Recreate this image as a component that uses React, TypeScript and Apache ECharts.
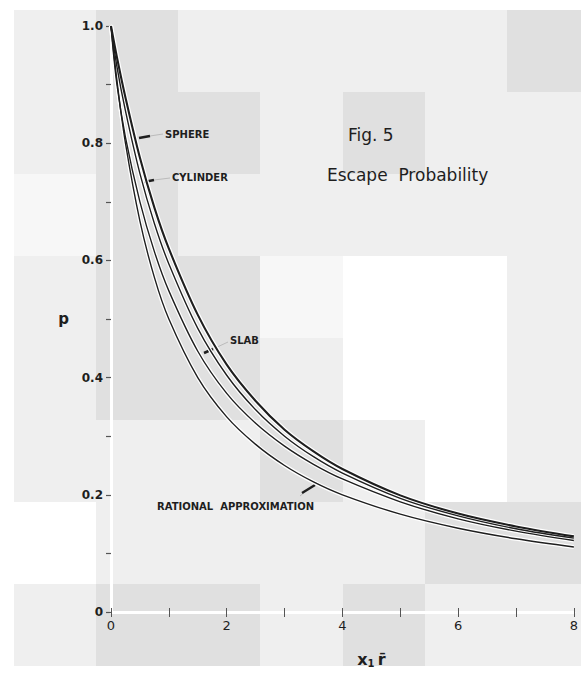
import React, { useEffect, useRef } from "react";
import * as echarts from "echarts";

// ---- data ----
const xValues = [0, 0.1, 0.25, 0.5, 0.75, 1, 1.5, 2, 2.5, 3, 3.5, 4, 5, 6, 7, 8];
const sphere = [1, 0.948, 0.878, 0.775, 0.69, 0.62, 0.507, 0.422, 0.36, 0.311, 0.274, 0.244, 0.199, 0.168, 0.146, 0.129];
const cylinder = [1, 0.932, 0.855, 0.748, 0.663, 0.594, 0.484, 0.404, 0.345, 0.3, 0.265, 0.237, 0.194, 0.164, 0.142, 0.126];
const slab = [1, 0.902, 0.81, 0.7, 0.615, 0.548, 0.445, 0.373, 0.322, 0.283, 0.252, 0.227, 0.188, 0.159, 0.138, 0.122];
const rational = [1, 0.909, 0.8, 0.667, 0.571, 0.5, 0.4, 0.333, 0.286, 0.25, 0.222, 0.2, 0.167, 0.143, 0.125, 0.111];

const xTickLabels = ["0", "2", "4", "6", "8"];
const yTickLabels = ["0", "0.2", "0.4", "0.6", "0.8", "1.0"];

// scanned-paper background tiles
const tileCols = [14, 96, 178, 260, 343, 425, 507, 581];
const tileRows = [10, 92, 174, 256, 338, 420, 502, 584, 666];
const tileMap = ["LDLLLLD", "LDDLDLL", "VDLLLLL", "LDDVWWL", "LDDLWWL", "LLLDLWL", "WLLLLDD", "LDDLDLL"];
const tileColors: Record<string, string> = { L: "#efefef", D: "#e0e0e0", V: "#f7f7f7", W: "#ffffff" };

const FONT = "DejaVu Sans";
const INK = "#1e1e1e";

function pairs(ys: number[]) {
  return xValues.map((x, i) => [x, ys[i]]);
}

export default function App() {
  const ref = useRef<HTMLDivElement>(null);
  useEffect(() => {
    document.body.style.margin = "0";
    const chart = echarts.init(ref.current!, undefined, { renderer: "svg" });

    const tiles: any[] = [];
    tileMap.forEach((row, r) => {
      row.split("").forEach((c, k) => {
        tiles.push({
          type: "rect",
          silent: true,
          z: -100,
          shape: { x: tileCols[k], y: tileRows[r], width: tileCols[k + 1] - tileCols[k], height: tileRows[r + 1] - tileRows[r] },
          style: { fill: tileColors[c] },
        });
      });
    });

    const curves = [
      { name: "SPHERE", data: sphere, width: 2.1 },
      { name: "CYLINDER", data: cylinder, width: 1.4 },
      { name: "SLAB", data: slab, width: 1.4 },
      { name: "RATIONAL APPROXIMATION", data: rational, width: 1.4 },
    ];
    const series: any[] = [];
    curves.forEach((c) => {
      series.push({
        type: "line",
        name: c.name + " halo",
        data: pairs(c.data),
        smooth: 0.35,
        showSymbol: false,
        silent: true,
        z: 1,
        lineStyle: { color: "#ffffff", width: c.width + 2.5 },
      });
    });
    curves.forEach((c) => {
      series.push({
        type: "line",
        name: c.name,
        data: pairs(c.data),
        smooth: 0.35,
        showSymbol: false,
        z: 3,
        lineStyle: { color: INK, width: c.width },
      });
    });

    const smallLabel = (text: string, x: number, y: number) => ({
      type: "text",
      x,
      y,
      style: { text, fill: INK, font: `bold 10px '${FONT}'`, textVerticalAlign: "middle" },
    });
    const leader = (x1: number, y1: number, x2: number, y2: number, w: number, color: string) => ({
      type: "line",
      shape: { x1, y1, x2, y2 },
      style: { stroke: color, lineWidth: w },
    });

    chart.setOption({
      animation: false,
      backgroundColor: "#ffffff",
      grid: { left: 111, top: 26, width: 465, height: 586, containLabel: false },
      xAxis: [
        {
          type: "value",
          min: 0,
          max: 8,
          interval: 2,
          position: "bottom",
          name: "{v|x}{s|1} {v|r̄}",
          nameLocation: "middle",
          nameGap: 38,
          nameTextStyle: {
            padding: [0, 0, 0, 58],
            rich: {
              v: { fontFamily: FONT, fontSize: 16, fontWeight: "bold", color: INK },
              s: { fontFamily: FONT, fontSize: 10, fontWeight: "bold", color: INK, verticalAlign: "bottom", padding: [8, 0, 0, 0] },
            },
          },
          axisLine: { show: true, lineStyle: { color: "#ffffff", width: 3 } },
          axisTick: { show: true, inside: true, length: 4, lineStyle: { color: "#555", width: 1 } },
          minorTick: { show: true, splitNumber: 2, length: 4, lineStyle: { color: "#555", width: 1 } },
          axisLabel: {
            color: INK,
            fontFamily: FONT,
            fontSize: 13,
            margin: 7,
            formatter: (v: number) => xTickLabels[Math.round(v / 2)] ?? "",
          },
          splitLine: { show: false },
        },
        {
          type: "value",
          min: 0,
          max: 8,
          interval: 1,
          position: "top",
          axisLine: { show: true, lineStyle: { color: "#ffffff", width: 3 } },
          axisTick: { show: true, inside: true, length: 5, lineStyle: { color: "#555", width: 1 } },
          axisLabel: { show: false },
          splitLine: { show: false },
        },
      ],
      yAxis: [
        {
          type: "value",
          min: 0,
          max: 1,
          interval: 0.2,
          position: "left",
          name: "p",
          nameLocation: "middle",
          nameGap: 42,
          nameRotate: 0,
          nameTextStyle: { color: INK, fontFamily: FONT, fontSize: 15, fontWeight: "bold" },
          axisLine: { show: true, lineStyle: { color: "#333", width: 1.2 } },
          axisTick: { show: true, inside: false, length: 4, lineStyle: { color: "#444", width: 1 } },
          minorTick: { show: true, splitNumber: 2, length: 4, lineStyle: { color: "#444", width: 1 } },
          axisLabel: {
            color: INK,
            fontFamily: FONT,
            fontSize: 12,
            fontWeight: "bold",
            margin: 8,
            formatter: (v: number) => yTickLabels[Math.round(v * 5)] ?? "",
          },
          splitLine: { show: false },
        },
        {
          type: "value",
          min: 0,
          max: 1,
          interval: 0.1,
          position: "right",
          axisLine: { show: true, lineStyle: { color: "#ffffff", width: 3 } },
          axisTick: { show: true, inside: true, length: 5, lineStyle: { color: "#555", width: 1.2 } },
          axisLabel: { show: false },
          splitLine: { show: false },
        },
      ],
      series,
      graphic: [
        ...tiles,
        { type: "text", x: 348, y: 135, style: { text: "Fig. 5", fill: INK, font: `17px '${FONT}'`, textVerticalAlign: "middle" } },
        { type: "text", x: 327, y: 175, style: { text: "Escape  Probability", fill: INK, font: `17px '${FONT}'`, textVerticalAlign: "middle" } },
        smallLabel("SPHERE", 165, 134),
        smallLabel("CYLINDER", 172, 177),
        smallLabel("SLAB", 230, 340),
        smallLabel("RATIONAL  APPROXIMATION", 157, 506),
        leader(150, 136, 163, 134, 1, "#bbbbbb"),
        leader(139, 138, 150, 136, 2.6, INK),
        leader(154, 180, 170, 178, 1, "#bbbbbb"),
        leader(144, 182, 154, 180, 2.6, INK),
        leader(213, 349, 228, 342, 1, "#bbbbbb"),
        leader(204, 353, 213, 349, 2.6, INK),
        leader(300, 496, 306, 491, 1, "#bbbbbb"),
        leader(302, 493, 315, 485, 2.4, INK),
      ],
    });
    return () => chart.dispose();
  }, []);
  return <div ref={ref} style={{ position: "fixed", left: 0, top: 0, width: 581, height: 673 }} />;
}
